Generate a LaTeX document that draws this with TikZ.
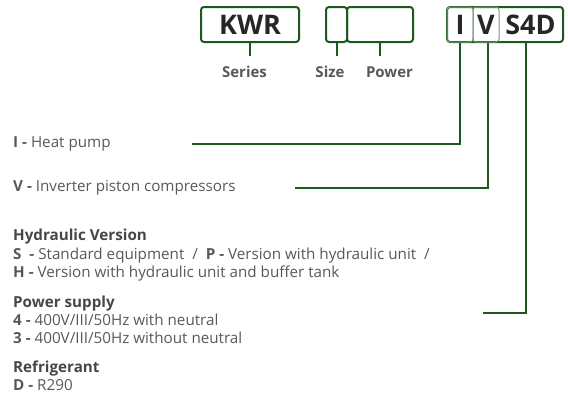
\documentclass[tikz,border=0pt]{standalone}
\usepackage{fontspec}
\setmainfont{Open Sans}
\usetikzlibrary{positioning}
\definecolor{codegreen}{RGB}{30,88,28}
\definecolor{txtgray}{RGB}{88,88,88}
\definecolor{hdgray}{RGB}{70,70,70}

\begin{document}
\begin{tikzpicture}[x=1pt,y=-1pt,
  codebox/.style={draw=codegreen,line width=2pt,rounded corners=3pt,inner sep=0pt,
    minimum height=35pt,text=black!85,font=\fontsize{27}{31}\selectfont\bfseries},
  segbox/.style={codebox,line width=1pt,draw=codegreen!60},
  link/.style={draw=codegreen,line width=2pt},
  lbl/.style={inner sep=0pt,text=txtgray,font=\fontsize{15}{18}\selectfont\bfseries},
  desc/.style={anchor=mid west,inner sep=0pt,yshift=-1.5pt,text=txtgray,font=\fontsize{15.2}{18}\selectfont},
  head/.style={desc,text=hdgray,font=\fontsize{15.2}{18}\selectfont\bfseries}]
\useasboundingbox (0,0) rectangle (568,394);

% code boxes
\node[codebox,minimum width=98pt] (kwr) at (250,24.5) {KWR};
\node[codebox,minimum width=21pt] (size) at (336.5,24.5) {};
\node[codebox,minimum width=66pt] (power) at (380,24.5) {};
\node[codebox,minimum width=116pt] (code) at (505,24.5) {};
\node[segbox,minimum width=26pt] (iseg) at (460,24.5) {I};
\node[segbox,minimum width=26pt] (vseg) at (486,24.5) {V};
\node[inner sep=0pt,text=black!85,font=\fontsize{27}{31}\selectfont\bfseries] (sfd) at (530.5,24.5) {S4D};

% labels under the boxes
\node[lbl] (series) at (244.5,72) {Series};
\node[lbl] (sizelbl) at (330,72) {Size};
\node[lbl] (powerlbl) at (389.5,72) {Power};
\draw[link] (kwr.south) -- ++(0,13);
\draw[link] (size.south) -- ++(0,13);
\draw[link] (power.south) -- ++(0,13);

% descriptions
\node[desc] (itxt) at (13,143) {\textbf{I -} Heat pump};
\node[desc] (vtxt) at (13,187) {\textbf{V -} Inverter piston compressors};
\node[head] (hydhd) at (13,236) {Hydraulic Version};
\node[desc] (hyds) at (13,255) {\textbf{S\ \ -} Standard equipment \ /\ \ \textbf{P -} Version with hydraulic unit \ /};
\node[desc] (hydh) at (13,273) {\textbf{H -} Version with hydraulic unit and buffer tank};
\node[head] (pwrhd) at (13,303) {Power supply};
\node[desc] (pwr4) at (13,321) {\textbf{4 -} 400V/III/50Hz with neutral};
\node[desc] (pwr3) at (13,339) {\textbf{3 -} 400V/III/50Hz without neutral};
\node[head] (refhd) at (13,368) {Refrigerant};
\node[desc] (refd) at (13,386) {\textbf{D -} R290};

% leader lines
\coordinate (ihook) at (192,144);
\coordinate (vhook) at (295,188);
\coordinate (shook) at (483,313);
\draw[link] (iseg.south) |- (ihook);
\draw[link] ([xshift=2pt]vseg.south) |- (vhook);
\draw[link] ([xshift=-4.5pt]sfd |- code.south) |- (shook);
\end{tikzpicture}
\end{document}
